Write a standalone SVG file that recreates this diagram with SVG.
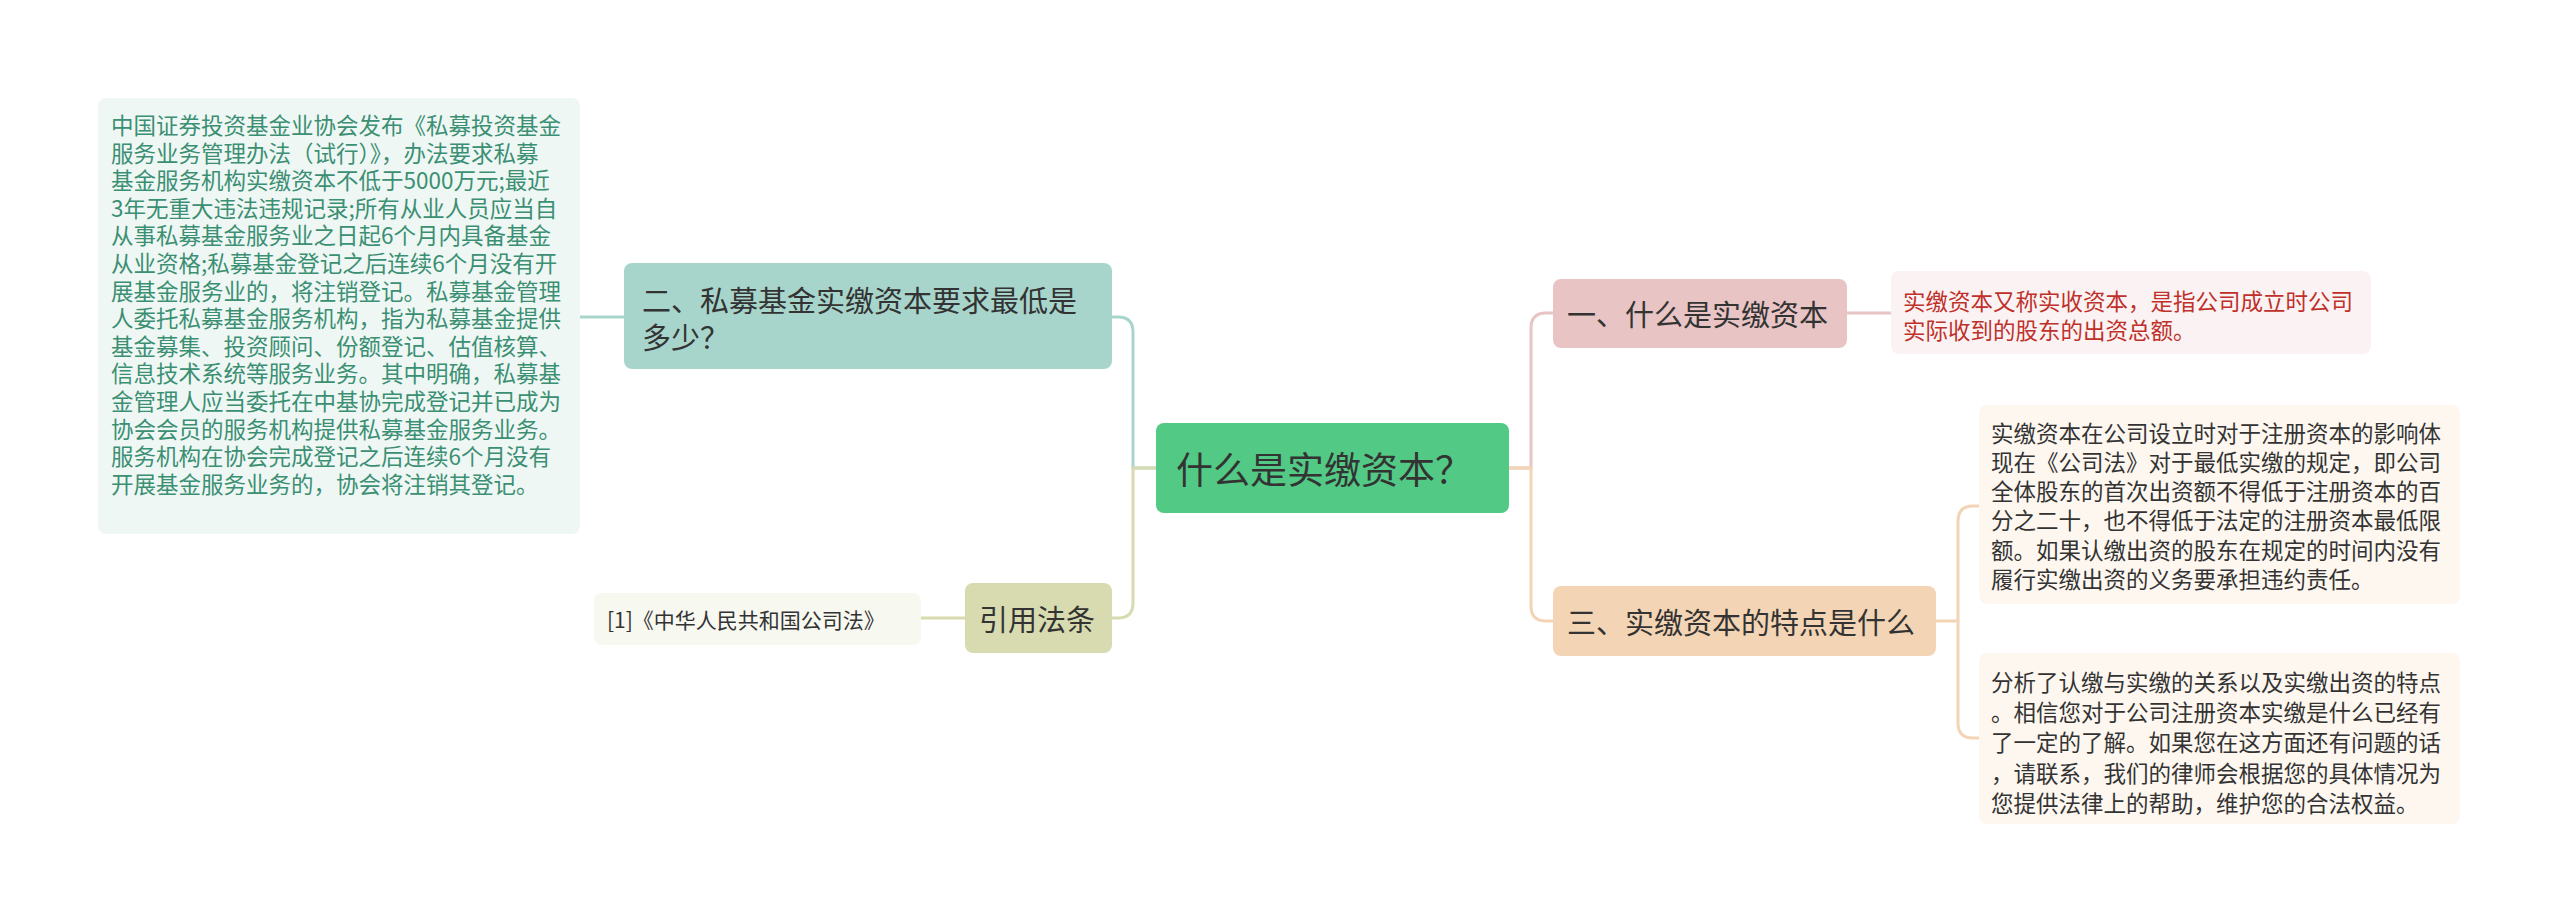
<svg xmlns="http://www.w3.org/2000/svg" width="2560" height="923" viewBox="0 0 2560 923">
<style>
text{font-family:"Noto Sans CJK SC","Noto Sans",sans-serif;dominant-baseline:central}
.big{font-size:29px;fill:#333}
.sm{font-size:22.5px}
.c{fill:none;stroke-width:3}
</style>
<rect width="2560" height="923" fill="#fff"/>
<g id="connectors">
<path class="c" stroke="#a8d5cb" d="M1156,468 H1133 V332 Q1133,317 1118,317 H1112"/>
<path class="c" stroke="#d8dbb0" d="M1156,468 H1133 V603 Q1133,618 1118,618 H1112"/>
<path class="c" stroke="#a8d5cb" d="M624,317 H580"/>
<path class="c" stroke="#d8dbb0" d="M965,618 H921"/>
<path class="c" stroke="#e8c4c4" d="M1509,468 H1531 V328 Q1531,313 1546,313 H1553"/>
<path class="c" stroke="#f3d5b5" d="M1509,468 H1531 V606 Q1531,621 1546,621 H1553"/>
<path class="c" stroke="#e8c4c4" d="M1847,313 H1891"/>
<path class="c" stroke="#f3d5b5" d="M1936,621 H1958 V521 Q1958,506 1973,506 H1979"/>
<path class="c" stroke="#f3d5b5" d="M1958,621 V723 Q1958,738 1973,738 H1979"/>
</g>
<g id="center"><rect x="1156" y="423" width="353" height="90" rx="8" fill="#52c985"/><text x="1176" y="468" style="font-size:37px;fill:#333">什么是实缴资本？</text></g>
<g id="n2"><rect x="624" y="263" width="488" height="106" rx="8" fill="#a8d5cb"/><text class="big" x="642" y="299">二、私募基金实缴资本要求最低是</text><text class="big" x="642" y="336">多少？</text></g>
<g id="n2d"><rect x="98" y="98" width="482" height="436" rx="8" fill="#eff7f5"/>
<g class="sm" fill="#3b8f72">
<text x="111" y="124">中国证券投资基金业协会发布《私募投资基金</text>
<text x="111" y="152">服务业务管理办法（试行）》，办法要求私募</text>
<text x="111" y="179">基金服务机构实缴资本不低于5000万元;最近</text>
<text x="111" y="207">3年无重大违法违规记录;所有从业人员应当自</text>
<text x="111" y="234">从事私募基金服务业之日起6个月内具备基金</text>
<text x="111" y="262">从业资格;私募基金登记之后连续6个月没有开</text>
<text x="111" y="290">展基金服务业的，将注销登记。私募基金管理</text>
<text x="111" y="317">人委托私募基金服务机构，指为私募基金提供</text>
<text x="111" y="345">基金募集、投资顾问、份额登记、估值核算、</text>
<text x="111" y="372">信息技术系统等服务业务。其中明确，私募基</text>
<text x="111" y="400">金管理人应当委托在中基协完成登记并已成为</text>
<text x="111" y="428">协会会员的服务机构提供私募基金服务业务。</text>
<text x="111" y="455">服务机构在协会完成登记之后连续6个月没有</text>
<text x="111" y="483">开展基金服务业务的，协会将注销其登记。</text>
</g></g>
<g id="law"><rect x="965" y="583" width="147" height="70" rx="8" fill="#d8dbb0"/><text class="big" x="979" y="618">引用法条</text></g>
<g id="lawd"><rect x="594" y="593" width="327" height="52" rx="8" fill="#f7f8f0"/><text x="607" y="619" style="font-size:21px;fill:#333">[1]《中华人民共和国公司法》</text></g>
<g id="n1"><rect x="1553" y="279" width="294" height="69" rx="8" fill="#e8c4c4"/><text class="big" x="1567" y="313">一、什么是实缴资本</text></g>
<g id="n1d"><rect x="1891" y="271" width="480" height="83" rx="8" fill="#fbf3f3"/><g class="sm" fill="#c0302a"><text x="1903" y="300">实缴资本又称实收资本，是指公司成立时公司</text><text x="1903" y="329">实际收到的股东的出资总额。</text></g></g>
<g id="n3"><rect x="1553" y="586" width="383" height="70" rx="8" fill="#f3d5b5"/><text class="big" x="1567" y="621">三、实缴资本的特点是什么</text></g>
<g id="n3a"><rect x="1979" y="405" width="481" height="199" rx="8" fill="#fdf7f0"/><g class="sm" fill="#333">
<text x="1991" y="432">实缴资本在公司设立时对于注册资本的影响体</text>
<text x="1991" y="461">现在《公司法》对于最低实缴的规定，即公司</text>
<text x="1991" y="490">全体股东的首次出资额不得低于注册资本的百</text>
<text x="1991" y="519">分之二十，也不得低于法定的注册资本最低限</text>
<text x="1991" y="549">额。如果认缴出资的股东在规定的时间内没有</text>
<text x="1991" y="578">履行实缴出资的义务要承担违约责任。</text></g></g>
<g id="n3b"><rect x="1979" y="653" width="481" height="171" rx="8" fill="#fdf7f0"/><g class="sm" fill="#333">
<text x="1991" y="681">分析了认缴与实缴的关系以及实缴出资的特点</text>
<text x="1991" y="711">。相信您对于公司注册资本实缴是什么已经有</text>
<text x="1991" y="741">了一定的了解。如果您在这方面还有问题的话</text>
<text x="1991" y="772">，请联系，我们的律师会根据您的具体情况为</text>
<text x="1991" y="802">您提供法律上的帮助，维护您的合法权益。</text></g></g>
</svg>
